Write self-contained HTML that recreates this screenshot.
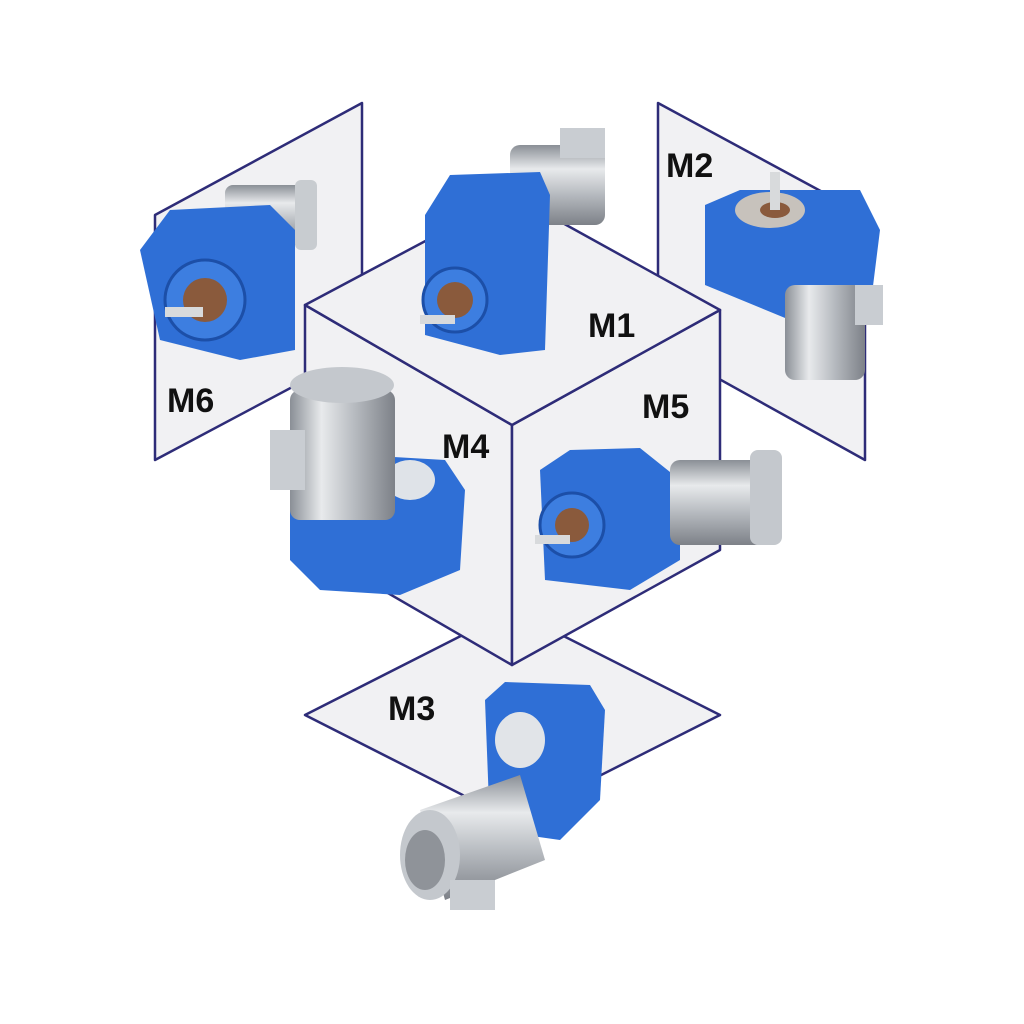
<!DOCTYPE html>
<html><head><meta charset="utf-8"><style>
html,body{margin:0;padding:0;background:#fff;}
svg{display:block}
text{font-family:"Liberation Sans",sans-serif;font-weight:bold;font-size:34px;fill:#111}
</style></head><body>
<svg width="1024" height="1024" viewBox="0 0 1024 1024" xmlns="http://www.w3.org/2000/svg">
<defs>
<linearGradient id="al" x1="0" y1="0" x2="1" y2="0">
<stop offset="0" stop-color="#8a8f96"/><stop offset="0.3" stop-color="#e8eaec"/><stop offset="0.6" stop-color="#b9bdc2"/><stop offset="1" stop-color="#7d8188"/></linearGradient>
<linearGradient id="alv" x1="0" y1="0" x2="0" y2="1">
<stop offset="0" stop-color="#8a8f96"/><stop offset="0.3" stop-color="#e8eaec"/><stop offset="0.6" stop-color="#b9bdc2"/><stop offset="1" stop-color="#7d8188"/></linearGradient>
</defs>
<g fill="#f1f1f3" stroke="#2e2c78" stroke-width="2.5" stroke-linejoin="round">
<polygon points="155,215 362,103 362,350 155,460"/>
<polygon points="658,103 865,215 865,460 658,345"/>
<polygon points="305,715 512,610 720,715 512,820"/>
<polygon points="305,305 512,425 512,665 305,545"/>
<polygon points="512,425 720,310 720,550 512,665"/>
<polygon points="305,305 512,195 720,310 512,425"/>
</g>
<text x="167" y="412">M6</text>
<text x="588" y="337">M1</text>
<text x="666" y="177">M2</text>
<text x="442" y="458">M4</text>
<text x="642" y="418">M5</text>
<text x="388" y="720">M3</text>

<!-- M6 motor -->
<g>
<rect x="225" y="185" width="85" height="60" rx="8" fill="url(#alv)"/>
<rect x="295" y="180" width="22" height="70" rx="6" fill="#c8ccd0"/>
<polygon points="140,250 170,210 270,205 295,230 295,350 240,360 160,340" fill="#2f6fd6"/>
<circle cx="205" cy="300" r="40" fill="#3d7ee0" stroke="#1c4fa8" stroke-width="3"/>
<circle cx="205" cy="300" r="22" fill="#8a5a3c"/>
<rect x="165" y="307" width="38" height="10" fill="#d8dadc"/>
</g>
<!-- M1 motor -->
<g>
<rect x="510" y="145" width="95" height="80" rx="10" fill="url(#alv)"/>
<rect x="560" y="128" width="45" height="30" fill="#c9cdd2"/>
<polygon points="425,215 450,175 540,172 550,195 545,350 500,355 425,335" fill="#2f6fd6"/>
<circle cx="455" cy="300" r="32" fill="#3d7ee0" stroke="#1c4fa8" stroke-width="3"/>
<circle cx="455" cy="300" r="18" fill="#8a5a3c"/>
<rect x="420" y="315" width="35" height="9" fill="#d8dadc"/>
</g>
<!-- M2 motor -->
<g>
<polygon points="705,205 740,190 860,190 880,230 870,310 790,320 705,285" fill="#2f6fd6"/>
<ellipse cx="770" cy="210" rx="35" ry="18" fill="#c7c2bc"/>
<ellipse cx="775" cy="210" rx="15" ry="8" fill="#8a5a3c"/>
<rect x="770" y="172" width="10" height="38" fill="#d8dadc"/>
<rect x="785" y="285" width="80" height="95" rx="10" fill="url(#al)"/>
<rect x="855" y="285" width="28" height="40" fill="#c9cdd2"/>
</g>
<!-- M4 motor -->
<g>
<polygon points="290,500 360,455 445,460 465,490 460,570 400,595 320,590 290,560" fill="#2f6fd6"/>
<ellipse cx="410" cy="480" rx="25" ry="20" fill="#dfe3e8"/>
<rect x="290" y="390" width="105" height="130" rx="10" fill="url(#al)"/>
<ellipse cx="342" cy="385" rx="52" ry="18" fill="#c4c8cd"/>
<rect x="270" y="430" width="35" height="60" fill="#c9cdd2"/>
</g>
<!-- M5 motor -->
<g>
<polygon points="540,470 570,450 640,448 680,480 680,560 630,590 545,580" fill="#2f6fd6"/>
<circle cx="572" cy="525" r="32" fill="#3d7ee0" stroke="#1c4fa8" stroke-width="3"/>
<circle cx="572" cy="525" r="17" fill="#8a5a3c"/>
<rect x="535" y="535" width="35" height="9" fill="#d8dadc"/>
<rect x="670" y="460" width="95" height="85" rx="10" fill="url(#alv)"/>
<rect x="750" y="450" width="32" height="95" rx="8" fill="#c4c8cd"/>
</g>
<!-- M3 motor -->
<g>
<polygon points="485,700 505,682 590,685 605,710 600,800 560,840 490,830" fill="#2f6fd6"/>
<ellipse cx="520" cy="740" rx="25" ry="28" fill="#e1e4e8"/>
<polygon points="420,810 520,775 545,860 445,900" fill="url(#alv)"/>
<ellipse cx="430" cy="855" rx="30" ry="45" fill="#c4c8cd"/>
<ellipse cx="425" cy="860" rx="20" ry="30" fill="#8f9399"/>
<rect x="450" y="880" width="45" height="30" fill="#c9cdd2"/>
</g>
</svg>
</body></html>
